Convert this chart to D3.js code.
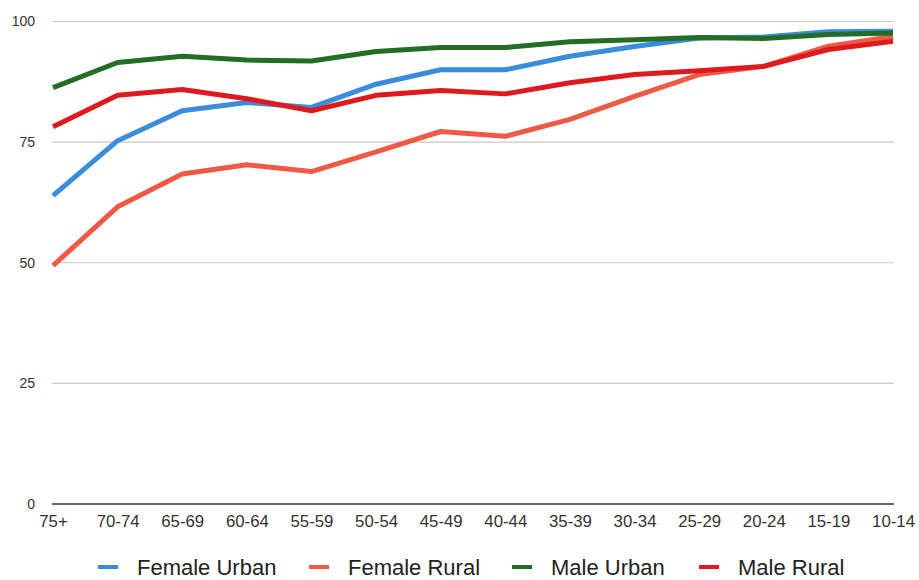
<!DOCTYPE html>
<html>
<head>
<meta charset="utf-8">
<script src="https://cdn.jsdelivr.net/npm/d3@7"></script>
<style>
  html, body { margin: 0; padding: 0; background: #fff; }
  svg { display: block; font-family: "Liberation Sans", Arial, Helvetica, sans-serif; }
</style>
</head>
<body>
<svg id="chart" width="919" height="580"></svg>
<script>
// Age groups, oldest to youngest
const ageGroups = ["75+", "70-74", "65-69", "60-64", "55-59", "50-54", "45-49", "40-44", "35-39", "30-34", "25-29", "20-24", "15-19", "10-14"];

// Literacy rate (%) by age group
const femaleUrban = [63.9, 75.3, 81.5, 83.2, 82.2, 87.0, 90.0, 90.0, 92.8, 94.8, 96.6, 96.8, 97.9, 98.0];
const femaleRural = [49.4, 61.6, 68.4, 70.3, 68.9, 73.0, 77.2, 76.2, 79.7, 84.5, 89.0, 90.7, 94.9, 96.9];
const maleUrban   = [86.3, 91.5, 92.8, 92.0, 91.8, 93.8, 94.6, 94.6, 95.8, 96.2, 96.7, 96.5, 97.3, 97.6];
const maleRural   = [78.2, 84.7, 85.9, 84.0, 81.5, 84.7, 85.7, 85.0, 87.3, 89.0, 89.8, 90.7, 94.2, 95.9];

const yTicks = [0, 25, 50, 75, 100];

const seriesNames = ["Female Urban", "Female Rural", "Male Urban", "Male Rural"];
const seriesColors = ["#3a8ddc", "#ee5a45", "#236d26", "#de1a1f"];
const seriesValues = [femaleUrban, femaleRural, maleUrban, maleRural];

const svg = d3.select("#chart");

const x = d3.scalePoint().domain(ageGroups).range([53, 893]);
const y = d3.scaleLinear().domain([0, 100]).range([504, 21.5]);

// Horizontal gridlines
svg.append("g")
  .selectAll("line")
  .data(yTicks.filter(d => d > 0))
  .join("line")
  .attr("x1", 52).attr("x2", 894)
  .attr("y1", d => y(d)).attr("y2", d => y(d))
  .attr("stroke", "#c9c9c9")
  .attr("stroke-width", 1.2);

// Y axis labels
const yAxis = svg.append("g")
  .attr("transform", "translate(35,0)")
  .call(d3.axisLeft(y).tickValues(yTicks).tickSize(0).tickPadding(0));
yAxis.select(".domain").remove();
yAxis.selectAll("text")
  .attr("fill", "#333")
  .style("font-size", "14px");

// X axis baseline and labels
const xAxis = svg.append("g")
  .attr("transform", "translate(0,504)")
  .call(d3.axisBottom(x).tickSize(0).tickPadding(11));
xAxis.select(".domain")
  .attr("d", "M52,0H894")
  .attr("stroke", "#333")
  .attr("stroke-width", 1.6);
xAxis.selectAll("text")
  .attr("fill", "#333")
  .style("font-size", "16.8px");

// Series lines
const line = d3.line()
  .x((d, i) => x(ageGroups[i]))
  .y(d => y(d));

svg.append("g")
  .selectAll("path")
  .data(seriesValues)
  .join("path")
  .attr("d", d => line(d))
  .attr("fill", "none")
  .attr("stroke", (d, i) => seriesColors[i])
  .attr("stroke-width", 5)
  .attr("stroke-linejoin", "round");

// Legend
const legendX = [98, 309, 512, 699];
const legend = svg.append("g")
  .selectAll("g")
  .data(seriesNames)
  .join("g")
  .attr("transform", (d, i) => `translate(${legendX[i]},567)`);
legend.append("line")
  .attr("x1", 0).attr("x2", 20)
  .attr("y1", 0).attr("y2", 0)
  .attr("stroke", (d, i) => seriesColors[i])
  .attr("stroke-width", 4);
legend.append("text")
  .attr("x", 39)
  .attr("y", 7.5)
  .attr("fill", "#222")
  .style("font-size", "22px")
  .text(d => d);
</script>
</body>
</html>
